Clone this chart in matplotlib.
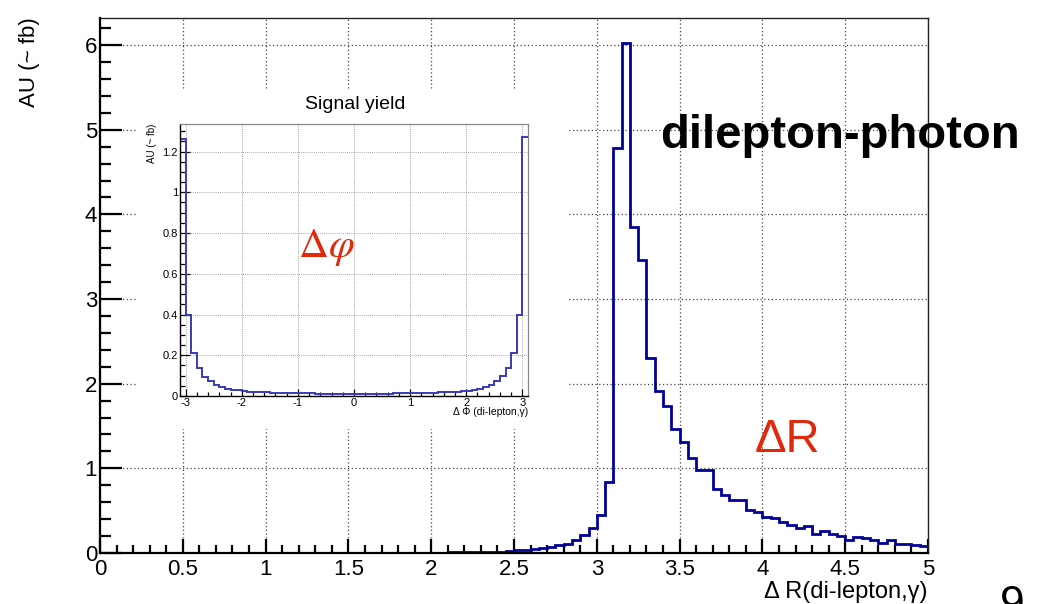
import numpy as np
import matplotlib
matplotlib.use("Agg")
import matplotlib.pyplot as plt
from matplotlib.patches import Rectangle
from matplotlib.ticker import MultipleLocator, FormatStrFormatter

plt.rcParams["font.family"] = ["Liberation Sans", "DejaVu Sans"]

# Delta R(di-lepton, gamma): 100 bins of 0.05 on [0, 5]; bins below 1.90 are empty
dr_edges = np.linspace(0.0, 5.0, 101)
dr_first = 38
dr_counts = [
    0.004, 0.004, 0.005, 0.005, 0.006, 0.006, 0.007, 0.008, 0.009, 0.010,   # 1.90 - 2.40
    0.015, 0.025, 0.030, 0.035, 0.045, 0.060, 0.075, 0.090, 0.110, 0.150,   # 2.40 - 2.90
    0.210, 0.290, 0.450, 0.840, 4.780, 6.020, 3.850, 3.460, 2.300, 1.910,   # 2.90 - 3.40
    1.740, 1.460, 1.310, 1.120, 0.980, 0.980, 0.755, 0.690, 0.625, 0.625,   # 3.40 - 3.90
    0.507, 0.487, 0.430, 0.410, 0.370, 0.330, 0.300, 0.320, 0.230, 0.260,   # 3.90 - 4.40
    0.220, 0.200, 0.150, 0.190, 0.180, 0.150, 0.120, 0.150, 0.110, 0.105,   # 4.40 - 4.90
    0.095, 0.085,                                                           # 4.90 - 5.00
]

# Delta Phi(di-lepton, gamma): 62 bins of 0.1 on [-3.1, 3.1]
dphi_edges = np.linspace(-3.1, 3.1, 63)
dphi_counts = [
    1.263, 0.398, 0.213, 0.135, 0.094, 0.073, 0.054, 0.043, 0.034, 0.030,
    0.027, 0.025, 0.022, 0.020, 0.019, 0.018, 0.017, 0.016, 0.015, 0.015,
    0.014, 0.014, 0.013, 0.013, 0.012, 0.012, 0.012, 0.011, 0.011, 0.011,
    0.011,
    0.011, 0.011, 0.011, 0.011, 0.012, 0.012, 0.012, 0.013, 0.013, 0.014,
    0.014, 0.015, 0.015, 0.016, 0.017, 0.018, 0.019, 0.020, 0.022, 0.023,
    0.025, 0.028, 0.033, 0.043, 0.054, 0.073, 0.099, 0.135, 0.213, 0.398,
    1.271,
]

W, H = 1044, 604


def fx(px):
    return px / W


def fy(py):
    return 1 - py / H


def root_frame(ax, lw_axis, lw_frame, frame_col):
    for s in ("left", "bottom"):
        ax.spines[s].set_linewidth(lw_axis)
        ax.spines[s].set_color("black")
    for s in ("top", "right"):
        ax.spines[s].set_linewidth(lw_frame)
        ax.spines[s].set_color(frame_col)
    ax.tick_params(which="both", direction="in", top=False, right=False, colors="black")


fig = plt.figure(figsize=(W / 100, H / 100), dpi=100)

# main pad
ax = fig.add_axes([fx(100), fy(553), fx(928) - fx(100), fy(18) - fy(553)], zorder=0)
ax.stairs(dr_counts, dr_edges[dr_first:], baseline=None, color="#000099", lw=2.0, zorder=2)
ax.set_xlim(0, 5)
ax.set_ylim(0, 6.32)
ax.xaxis.set_major_locator(MultipleLocator(0.5))
ax.xaxis.set_minor_locator(MultipleLocator(0.1))
ax.yaxis.set_major_locator(MultipleLocator(1))
ax.yaxis.set_minor_locator(MultipleLocator(0.2))
ax.xaxis.set_major_formatter(FormatStrFormatter("%g"))
ax.yaxis.set_major_formatter(FormatStrFormatter("%g"))
root_frame(ax, 1.6, 1.0, "#222222")
ax.tick_params(axis="y", which="major", length=16, width=1.6, pad=2, labelsize=16)
ax.tick_params(axis="y", which="minor", length=8, width=1.6)
ax.tick_params(axis="x", which="major", length=10, width=1.6, pad=4, labelsize=16)
ax.tick_params(axis="x", which="minor", length=5.5, width=1.6)
ax.grid(True, which="major", color="#444444", lw=0.9, ls=(0, (1, 2)))

# pad title sits above the canvas; only its descenders reach the top edge
fig.text(fx(512), 1 + 9 / H, "Signal yield", fontsize=32, ha="center", va="baseline")
fig.text(fx(30), fy(17), "AU (~ fb)", fontsize=16, rotation=90, ha="center", va="top")
fig.text(fx(928), fy(592), "\u0394 R(di-lepton,\u03b3)", fontsize=17, ha="right", va="center")
fig.text(fx(660), fy(148), "dilepton-photon", fontsize=34, fontweight="bold",
         ha="left", va="baseline")
fig.text(fx(755), fy(452), "\u0394R", fontsize=34, color="#e0280a", ha="left", va="baseline")
fig.text(fx(1000), fy(617), "9", fontsize=32, ha="left", va="baseline")

# inset pad: white background covering the main grid
fig.add_artist(Rectangle((fx(137), fy(429)), fx(569) - fx(137), fy(89) - fy(429),
                         transform=fig.transFigure, facecolor="white", edgecolor="none",
                         zorder=1))

axi = fig.add_axes([fx(180), fy(396), fx(528) - fx(180), fy(124) - fy(396)], zorder=2)
axi.stairs(dphi_counts, dphi_edges, baseline=None, color="#3a3ab5", lw=1.4, zorder=2)
axi.set_xlim(-3.1, 3.1)
axi.set_ylim(0, 1.335)
axi.xaxis.set_major_locator(MultipleLocator(1))
axi.xaxis.set_minor_locator(MultipleLocator(0.2))
axi.yaxis.set_major_locator(MultipleLocator(0.2))
axi.yaxis.set_minor_locator(MultipleLocator(0.05))
axi.xaxis.set_major_formatter(FormatStrFormatter("%g"))
axi.yaxis.set_major_formatter(FormatStrFormatter("%g"))
root_frame(axi, 1.0, 0.9, "#888888")
axi.tick_params(axis="y", which="major", length=7, width=0.9, pad=1.5, labelsize=8)
axi.tick_params(axis="y", which="minor", length=3.6, width=0.9)
axi.tick_params(axis="x", which="major", length=5, width=0.9, pad=1.5, labelsize=8)
axi.tick_params(axis="x", which="minor", length=3, width=0.9)
axi.grid(True, which="major", color="#888888", lw=0.6, ls=(0, (1, 1.5)))

fig.text(fx(355), fy(105), "Signal yield", fontsize=14, ha="center", va="center")
fig.text(fx(152), fy(124), "AU (~ fb)", fontsize=7, rotation=90, ha="center", va="top")
fig.text(fx(528), fy(412), "\u0394 \u03a6 (di-lepton,\u03b3)", fontsize=7.5, ha="right", va="center")
fig.text(fx(298), fy(257), r"$\Delta\varphi$", fontsize=30, color="#e0280a",
         math_fontfamily="stix", ha="left", va="baseline")

fig.savefig("out.png", dpi=100)
